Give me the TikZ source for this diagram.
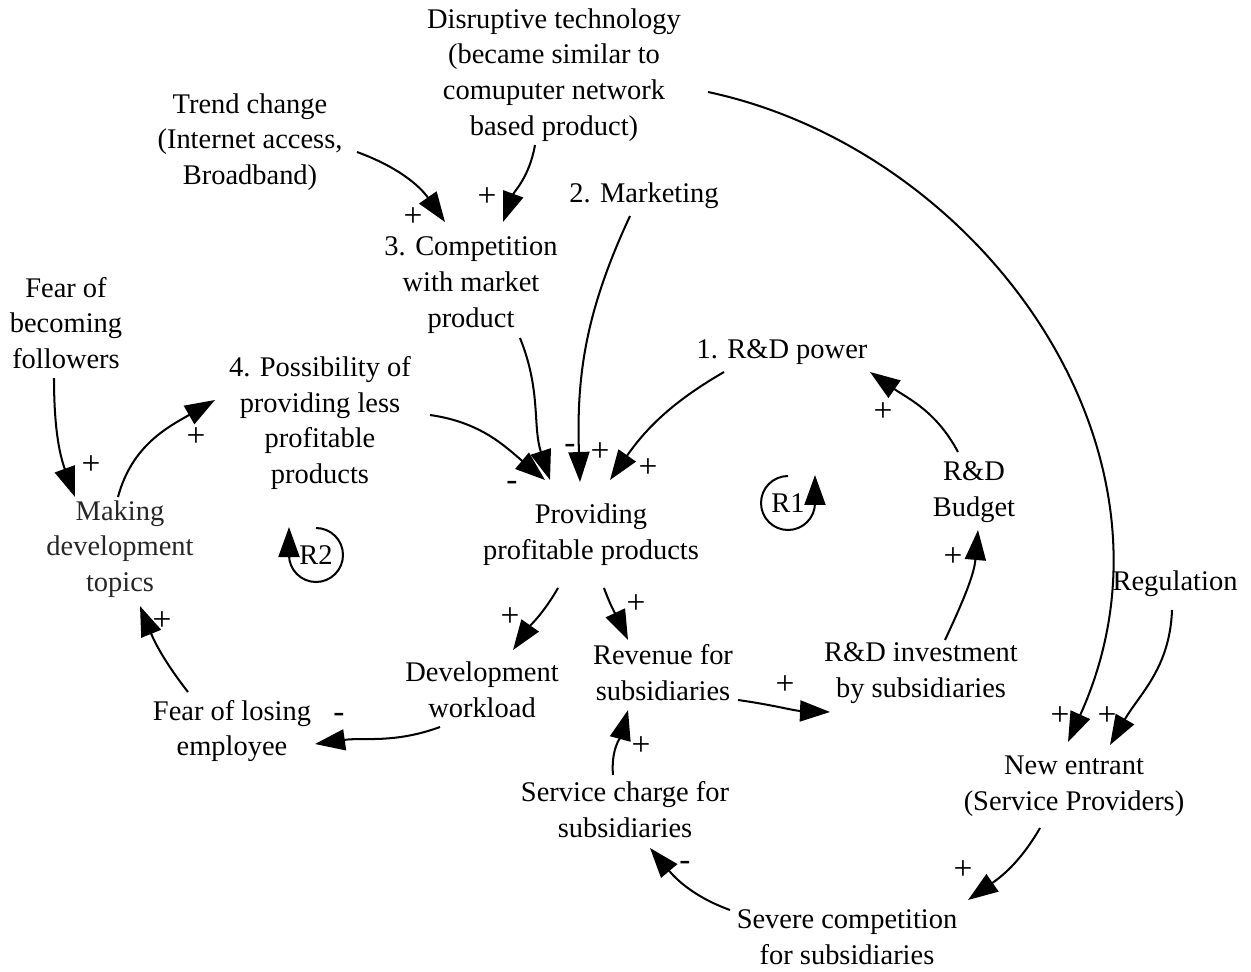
\documentclass[tikz,border=0pt]{standalone}
\usepackage{fontspec}
\setmainfont{Liberation Serif}
\usetikzlibrary{arrows.meta}
\begin{document}
\begin{tikzpicture}[x=0.02cm, y=0.02cm,
  var/.style={align=center, inner sep=0pt, font=\fontsize{16.2}{20.4}\selectfont},
  sign/.style={inner sep=0pt, font=\fontsize{19}{20}\selectfont},
  link/.style={line width=1.15pt, -{Triangle[length=0.6cm, width=0.42cm]}},
  looplabel/.style={inner sep=0pt, font=\fontsize{16.2}{18}\selectfont}
]
\useasboundingbox (0,0) rectangle (1251,-971);

% variables
\node[var] (dis)    at (554,-75)  {Disruptive technology\\(became similar to\\comuputer network\\based product)};
\node[var] (trend)  at (250,-142) {Trend change\\(Internet access,\\Broadband)};
\node[var] (mkt)    at (644,-196) {2. Marketing};
\node[var] (comp)   at (471,-285) {3. Competition\\with market\\product};
\node[var] (fear)   at (66,-323)  {Fear of\\becoming\\followers};
\node[var] (poss)   at (320,-423) {4. Possibility of\\providing less\\profitable\\products};
\node[var] (rdp)    at (782,-352) {1. R\&D power};
\node[var] (prov)   at (591,-535) {Providing\\profitable products};
\node[var] (budget) at (974,-492) {R\&D\\Budget};
\node[var, text=black!85] (make) at (120,-549) {Making\\development\\topics};
\node[var] (reg)    at (1175,-584) {Regulation};
\node[var] (dev)    at (482,-690) {Development\\workload};
\node[var] (rev)    at (663,-673) {Revenue for\\subsidiaries};
\node[var] (inv)    at (921,-673) {R\&D investment\\by subsidiaries};
\node[var] (lose)   at (232,-731) {Fear of losing\\employee};
\node[var] (newe)   at (1074,-786) {New entrant\\(Service Providers)};
\node[var] (serv)   at (625,-810) {Service charge for\\subsidiaries};
\node[var] (sev)    at (847,-937) {Severe competition\\for subsidiaries};

% causal links
\draw[link] ([shift={(107,-10)}]trend.center) to[out=-20,in=125] ([shift={(-26,63)}]comp.center);
\draw[link] ([shift={(-19,-70)}]dis.center) to[out=-100,in=70] ([shift={(32,63)}]comp.center);
\draw[link] ([shift={(154,-17)}]dis.center) .. controls +(272,-58) and +(132,292) .. ([shift={(-6,44)}]newe.center);
\draw[link] ([shift={(-3,-26)}]reg.center) to[out=-92,in=60] ([shift={(36,41)}]newe.center);
\draw[link] ([shift={(49,-53)}]comp.center) to[out=-68,in=108] ([shift={(-41,55)}]prov.center);
\draw[link] ([shift={(-14,-20)}]mkt.center) to[out=-115,in=92] ([shift={(-11,53)}]prov.center);
\draw[link] ([shift={(110,8)}]poss.center) to[out=-8,in=140] ([shift={(-46,55)}]prov.center);
\draw[link] ([shift={(-58,-20)}]rdp.center) to[out=-150,in=55] ([shift={(19,55)}]prov.center);
\draw[link] ([shift={(-16,40)}]budget.center) to[out=118,in=-35] ([shift={(88,-20)}]rdp.center);
\draw[link] ([shift={(24,33)}]inv.center) to[out=65,in=-95] ([shift={(4,-38)}]budget.center);
\draw[link] ([shift={(75,-27)}]rev.center) to[out=-8,in=178] ([shift={(-91,-39)}]inv.center);
\draw[link] ([shift={(13,-53)}]prov.center) to[out=-70,in=115] ([shift={(-35,33)}]rev.center);
\draw[link] ([shift={(-33,-53)}]prov.center) to[out=-120,in=55] ([shift={(31,40)}]dev.center);
\draw[link] ([shift={(-42,-37)}]dev.center) to[out=-160,in=8] ([shift={(83,-13)}]lose.center);
\draw[link] ([shift={(-44,39)}]lose.center) to[out=128,in=-68] ([shift={(20,-57)}]make.center);
\draw[link] ([shift={(-2,52)}]make.center) to[out=75,in=-150] ([shift={(-105,23)}]poss.center);
\draw[link] ([shift={(-12,-55)}]fear.center) to[out=-90,in=110] ([shift={(-45,52)}]make.center);
\draw[link] ([shift={(-12,35)}]serv.center) to[out=95,in=-105] ([shift={(-35,-37)}]rev.center);
\draw[link] ([shift={(-117,27)}]sev.center) to[out=160,in=-50] ([shift={(25,-38)}]serv.center);
\draw[link] ([shift={(-34,-42)}]newe.center) to[out=-120,in=35] ([shift={(121,37)}]sev.center);

% polarities
\node[sign] (s1)  at (413,-217) {+};
\node[sign] (s2)  at (487,-197) {+};
\node[sign] (s3)  at (1060,-716) {+};
\node[sign] (s4)  at (1107,-716) {+};
\node[sign] (s5)  at (570,-449) {-};
\node[sign] (s6)  at (600,-452) {+};
\node[sign] (s7)  at (512,-486) {-};
\node[sign] (s8)  at (648,-468) {+};
\node[sign] (s9)  at (883,-412) {+};
\node[sign] (s10) at (953,-557) {+};
\node[sign] (s11) at (785,-685) {+};
\node[sign] (s12) at (636,-604) {+};
\node[sign] (s13) at (510,-617) {+};
\node[sign] (s14) at (339,-718) {-};
\node[sign] (s15) at (162,-621) {+};
\node[sign] (s16) at (196,-437) {+};
\node[sign] (s17) at (91,-465) {+};
\node[sign] (s18) at (641,-746) {+};
\node[sign] (s19) at (685,-866) {-};
\node[sign] (s20) at (963,-870) {+};

% loop markers
\node[looplabel] (r1) at (788,-503) {R1};
\draw[link] ([shift={(0,27)}]r1.center) arc[start angle=90, end angle=360, radius=0.54cm] -- ++(0,28);
\node[looplabel] (r2) at (316,-555) {R2};
\draw[link] ([shift={(0,27)}]r2.center) arc[start angle=90, end angle=-180, radius=0.54cm] -- ++(0,28);
\end{tikzpicture}
\end{document}
